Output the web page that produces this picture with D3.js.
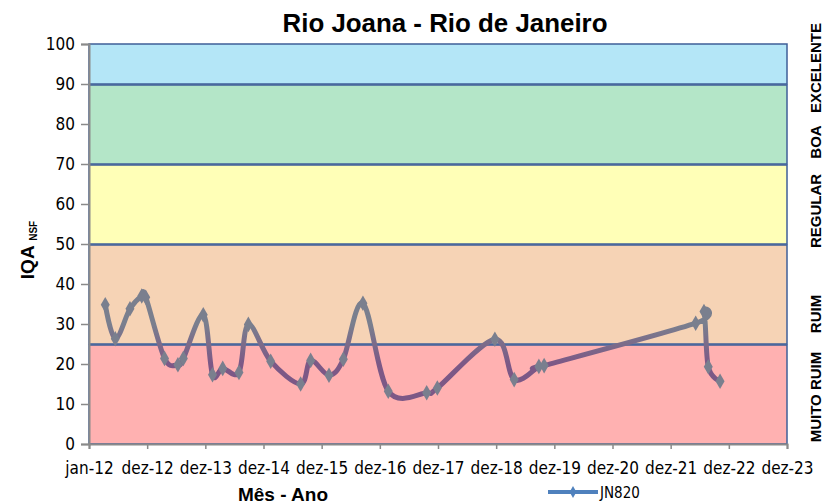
<!DOCTYPE html>
<html>
<head>
<meta charset="utf-8">
<script src="https://cdn.jsdelivr.net/npm/d3@7"></script>
<style>
  body { margin: 0; background: #fff; }
  text { font-family: "Liberation Sans Narrow", "DejaVu Sans Condensed", sans-serif; fill: #000; }
</style>
</head>
<body>
<div id="chart"></div>
<script>
// sample dates and IQA values for station JN820
const dates = ["2012-04-12", "2012-06-14", "2012-09-14", "2012-11-27", "2012-12-22",
    "2013-04-19", "2013-07-12", "2013-08-15", "2013-12-18", "2014-02-14",
    "2014-04-19", "2014-07-30", "2014-09-27", "2015-02-14", "2015-08-21",
    "2015-10-23", "2016-02-15", "2016-05-15", "2016-09-15", "2017-02-21",
    "2017-10-20", "2017-12-26", "2018-12-22", "2019-04-22", "2019-09-24",
    "2019-10-27", "2022-06-04", "2022-07-26", "2022-08-22", "2022-11-04"];
const iqa = [34.8, 26.3, 33.8, 37.0, 36.7,
    21.4, 19.8, 21.4, 32.3, 17.3,
    18.9, 17.9, 29.9, 20.7, 15.0,
    20.9, 17.2, 21.2, 35.2, 13.2,
    12.8, 14.0, 26.2, 16.1, 19.4,
    19.6, 30.2, 33.1, 19.3, 15.7];
const seriesName = "JN820";

const yTicks = [0, 10, 20, 30, 40, 50, 60, 70, 80, 90, 100];
const xTickLabels = ["jan-12", "dez-12", "dez-13", "dez-14", "dez-15", "dez-16", "dez-17",
    "dez-18", "dez-19", "dez-20", "dez-21", "dez-22", "dez-23"];

// quality classes
const bandEdges = [0, 25, 50, 70, 90, 100];
const bandLabels = ["MUITO RUIM", "RUIM", "REGULAR", "BOA", "EXCELENTE"];
const bandColors = ["#ffb1b1", "#f6d3b5", "#ffffb7", "#b4e6c8", "#b4e6f7"];
const labelCenters = [397, 314, 211, 142, 68];

const W = 829, H = 504;
const margin = { top: 44, right: 42, bottom: 60, left: 89 };

const parse = d3.timeParse("%Y-%m-%d");
const start = new Date(2012, 0, 1);
const end = d3.timeDay.offset(start, 365 * 12);

const x = d3.scaleTime().domain([start, end]).range([margin.left, W - margin.right]);
const y = d3.scaleLinear().domain([0, 100]).range([H - margin.bottom, margin.top]);

const data = dates.map((d, i) => ({ date: parse(d), value: iqa[i] }));

const svg = d3.select('#chart')
    .append('svg')
    .attr('width', W)
    .attr('height', H);

// gradient used by the series line
const defs = svg.append('defs');
const grad = defs.append('linearGradient')
    .attr('id', 'lineGrad')
    .attr('gradientUnits', 'userSpaceOnUse')
    .attr('x1', 0).attr('x2', 0)
    .attr('y1', y(30)).attr('y2', y(20));
grad.append('stop').attr('offset', 0).attr('stop-color', '#7a7f8e');
grad.append('stop').attr('offset', 1).attr('stop-color', '#7c5886');

// background bands
const bands = bandLabels.map((l, i) => ({ from: bandEdges[i], to: bandEdges[i + 1], label: l, color: bandColors[i] }));

svg.selectAll('.band')
    .data(bands)
    .enter()
    .append('rect')
    .attr('class', 'band')
    .attr('x', x.range()[0])
    .attr('width', x.range()[1] - x.range()[0])
    .attr('y', d => y(d.to) + (d.to < 100 ? 1 : 0))
    .attr('height', d => y(d.from) - y(d.to) - (d.to < 100 ? 1 : 0))
    .attr('fill', d => d.color)
    .attr('stroke', '#3f5f98')
    .attr('stroke-width', 1.5);

// class labels on the right
svg.selectAll('.bandLabel')
    .data(bands)
    .enter()
    .append('text')
    .attr('class', 'bandLabel')
    .attr('transform', (d, i) => `translate(821,${labelCenters[i]}) rotate(-90)`)
    .attr('text-anchor', 'middle')
    .style('font-family', 'Liberation Sans Narrow, sans-serif')
    .style('font-weight', 'bold')
    .style('font-size', '15px')
    .text(d => d.label);

// axes
const yAxis = svg.append('g')
    .attr('class', 'y axis')
    .attr('transform', `translate(${margin.left},0)`)
    .call(d3.axisLeft(y).tickValues(yTicks).tickSize(8).tickPadding(6));
yAxis.select('.domain').attr('stroke', '#8a8a8a').attr('stroke-width', 2);
yAxis.selectAll('.tick line').attr('stroke', '#8a8a8a').attr('stroke-width', 1.5);
yAxis.selectAll('text').style('font-size', '17px');

const xTickValues = xTickLabels.map((l, i) => d3.timeDay.offset(start, 365 * i));
const xAxis = svg.append('g')
    .attr('class', 'x axis')
    .attr('transform', `translate(0,${H - margin.bottom})`)
    .call(d3.axisBottom(x).tickValues(xTickValues).tickSize(5).tickPadding(13)
        .tickFormat((d, i) => xTickLabels[i]));
xAxis.select('.domain').attr('stroke', '#8a8a8a').attr('stroke-width', 2);
xAxis.selectAll('.tick line').attr('stroke', '#8a8a8a').attr('stroke-width', 1.5);
xAxis.selectAll('text').style('font-size', '17px');

// series
const line = d3.line()
    .x(d => x(d.date))
    .y(d => y(d.value))
    .curve(d3.curveCardinal.tension(0));

svg.append('path')
    .datum(data)
    .attr('fill', 'none')
    .attr('stroke', 'url(#lineGrad)')
    .attr('stroke-width', 5)
    .attr('stroke-linejoin', 'round')
    .attr('d', line);

const diamond = d3.symbol().type(d3.symbolDiamond).size(70);
svg.selectAll('.pt')
    .data(data)
    .enter()
    .append('path')
    .attr('class', 'pt')
    .attr('transform', d => `translate(${x(d.date)},${y(d.value)})`)
    .attr('d', diamond)
    .attr('fill', 'url(#lineGrad)');

// titles
svg.append('text')
    .attr('x', 445)
    .attr('y', 32)
    .attr('text-anchor', 'middle')
    .style('font-family', 'Liberation Sans, sans-serif')
    .style('font-weight', 'bold')
    .style('font-size', '25px')
    .attr('textLength', 325)
    .attr('lengthAdjust', 'spacingAndGlyphs')
    .text('Rio Joana - Rio de Janeiro');

const yTitle = svg.append('text')
    .attr('transform', 'translate(34,250) rotate(-90)')
    .attr('text-anchor', 'middle')
    .style('font-family', 'Liberation Sans, sans-serif')
    .style('font-weight', 'bold')
    .style('font-size', '19px');
yTitle.append('tspan').text('IQA ');
yTitle.append('tspan').attr('dy', 3).style('font-size', '10px').text('NSF');

svg.append('text')
    .attr('x', 283)
    .attr('y', 501)
    .attr('text-anchor', 'middle')
    .style('font-family', 'Liberation Sans, sans-serif')
    .style('font-weight', 'bold')
    .style('font-size', '19px')
    .text('Mês - Ano');

// legend
const legend = svg.append('g').attr('transform', 'translate(548,492)');
legend.append('line')
    .attr('x1', 0).attr('x2', 50)
    .attr('stroke', '#4f81bd')
    .attr('stroke-width', 4);
legend.append('path')
    .attr('transform', 'translate(25,0)')
    .attr('d', d3.symbol().type(d3.symbolDiamond).size(40))
    .attr('fill', '#4f81bd');
legend.append('text')
    .attr('x', 52)
    .attr('y', 6)
    .style('font-size', '15px')
    .text(seriesName);
</script>
</body>
</html>
